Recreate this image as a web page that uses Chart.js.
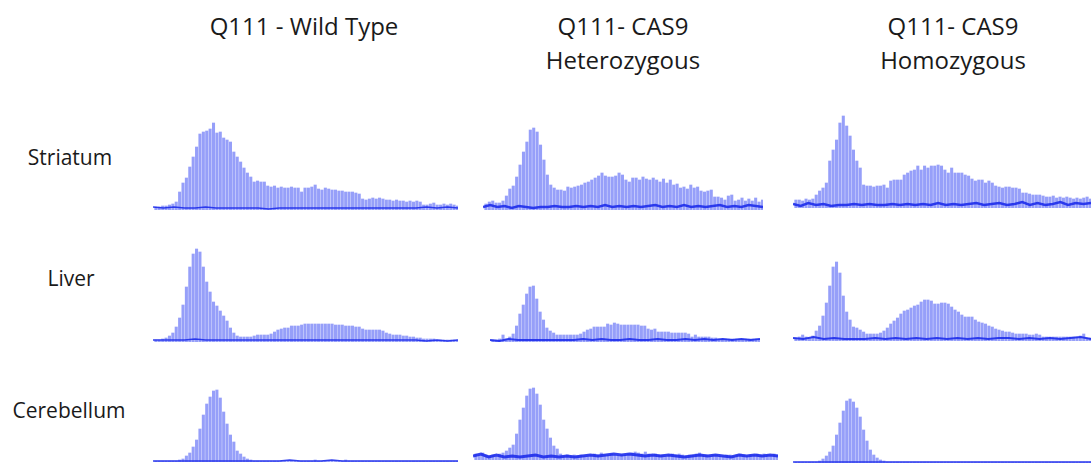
<!DOCTYPE html>
<html lang="en">
<head>
    <meta charset="UTF-8">
    <script src="https://cdn.jsdelivr.net/npm/chart.js"></script>
    <title>Q111 fragment traces</title>
    <style>
        body { margin: 0; background: #fff; }
        #wrap { position: relative; width: 1091px; height: 464px; overflow: hidden; font-family: "Open Sans", Lato, sans-serif; color: #1a1a1a; }
        .col-title { position: absolute; top: 9px; width: 300px; margin-left: -150px; text-align: center; font-size: 24px; line-height: 34px; }
        .row-label { position: absolute; width: 150px; margin-left: -75px; text-align: center; font-size: 21px; line-height: 24px; margin-top: -12px; }
        .panel { position: absolute; }
    </style>
</head>
<body>
<div id="wrap"></div>

<script>
// column / row text
const columnTitles = [["Q111 - Wild Type"], ["Q111- CAS9", "Heterozygous"], ["Q111- CAS9", "Homozygous"]];
const rowLabels = ["Striatum", "Liver", "Cerebellum"];

// peak heights (one value per repeat peak)
const striatumWT = [
    3,3,4,4,5,6,8,18,27,32, 43,53,63,76,78,79,81,87,77,78, 72,70,68,58,53,48,42,37,33,28,
    29,28,28,24,23,24,22,23,22,22, 23,22,22,18,22,22,23,25,21,20, 22,21,20,20,19,19,18,18,18,17,
    16,11,10,11,12,11,12,11,10,10, 9,10,9,9,8,9,8,9,8,5, 5,6,7,5,5,6,5,6,5,4];
const striatumHet = [
    6,8,9,7,7,9,14,21,24,33, 45,58,68,80,82,78,65,50,35,25, 22,20,20,19,23,22,23,24,25,27,
    28,30,32,34,37,34,33,33,34,37, 35,30,28,32,32,30,33,31,30,32, 30,28,31,27,30,25,26,22,23,21,
    25,22,23,19,18,19,20,13,13,12, 10,14,15,9,10,12,9,11,9,12, 8,10];
const striatumHom = [
    8,8,7,9,8,9,13,17,20,25, 47,58,68,85,92,82,72,58,47,40, 23,22,22,21,22,22,23,20,27,28,
    28,28,33,35,37,38,42,38,42,40, 42,42,43,42,38,35,40,35,35,35, 33,32,29,27,28,28,25,27,25,22,
    21,20,21,21,20,20,19,15,15,14, 13,13,13,12,11,11,12,10,11,10, 11,10,9,10,9,10,11,9];
const liverWT = [
    2,2,3,4,6,9,15,24,37,55, 75,88,93,90,75,60,50,40,36,31, 26,21,14,9,6,5,5,5,5,6,
    7,7,7,7,8,10,12,13,14,14, 16,16,16,17,18,18,18,18,18,18, 18,18,18,17,17,17,16,16,16,15,
    15,13,12,12,12,12,12,11,9,8, 7,7,7,6,6,5,5,4,4,3, 3,3,3,2,2,2,2,2,2,2];
const liverHet = [
    2,2,3,7,3,5,8,16,28,37, 48,55,56,43,30,22,14,11,9,7, 7,7,7,7,7,7,8,10,12,13,
    15,15,15,15,18,17,19,18,17,17, 17,17,17,17,16,16,13,12,13,10, 10,10,10,9,9,9,9,9,8,5,
    7,5,5,5,5,4,4,3,3,3, 3,3,3,3,3,3,3,3,3,3];
const liverHom = [
    3,4,6,4,3,5,10,15,25,38, 55,74,79,68,45,29,21,14,13,11, 9,7,7,7,7,8,10,13,17,20,
    23,27,30,31,33,35,36,39,41,41, 40,37,37,38,38,37,34,31,29,26, 24,24,24,21,19,18,17,15,14,12,
    11,10,9,9,8,7,7,7,7,6, 6,7,6,4,4,4,4,4,4,4, 4,4,4,4,5,7,3,3];
const cerebellumWT = [
    1,1,1,1,1,1,1,2,3,6, 9,15,22,33,47,58,65,71,72,64, 50,38,27,20,11,8,5,3,2,1,
    1,1,1,1,1,1,1,1,1,1, 1,1,1,1,1,1,1,2,1,1, 1,1,1,1,1,1,2,1,1,1,
    1,1,1,1,1,1,1,1,1,1, 1,1,1,1,1,1,1,1,1,1, 1,1,1,1,1,1,1,1,1,1];
const cerebellumHet = [
    6,5,7,5,4,5,4,6,7,9, 12,15,26,40,52,64,71,72,66,55, 40,31,22,14,11,6,4,5,4,5,
    4,5,4,4,5,6,5,7,5,5, 6,5,4,5,5,6,7,8,7,6, 8,6,5,6,5,5,4,5,6,5,
    6,5,4,5,5,6,7,5,5,4, 5,5,4,4,5,5,4,5,6,5, 4,5,5,6,5,6,5,5,6,5];
const cerebellumHom = [
    1,1,1,1,1,1,1,2,4,7, 11,17,28,40,52,62,64,61,55,46, 33,22,13,8,5,3,2,1,1,1,
    1,1,1,1,1,1,1,1,1,1, 1,1,1,1,1,1,1,1,1,1, 1,1,1,1,1,1,1,1,1,1,
    1,1,1,1,1,1,1,1,1,1, 1,1,1,1,1,1,1,1,1,1, 1,1,1,1,1,1,1,1];

// baseline noise under the peaks
const striatumWTBase = [3,2,3,2,2,3,2,2,2,2,2,1,2,2,2,2,2,2,2,2,2,2,2,2,2,2,3,2,3,2];
const striatumHetBase = [3,5,3,4,2,4,3,2,3,3,4,3,3,4,3,4,3,5,3,4,3,4,3,4,5,3,4,3,5,3,4,3,4,5,3,4,3,5,4,3];
const striatumHomBase = [4,2,5,3,4,2,3,3,4,3,4,3,3,4,3,4,3,4,3,5,3,4,3,4,5,3,4,5,3,4,6,3,5,3,4,6,3,5,4,5];
const liverWTBase = [2,2,2,2,3,2,2,2,2,2,2,2,2,2,2,2,2,2,2,2,2,2,2,2,2,2,1,2,1,2];
const liverHetBase = [2,1,3,2,2,2,2,2,2,2,3,2,3,2,2,3,2,2,3,2,2,3,2,3,2,3,2,3,2,3];
const liverHomBase = [3,2,4,2,3,2,2,2,3,2,3,2,3,2,3,2,3,2,3,2,3,3,2,3,2,3,2,3,4,2];
const cerebellumWTBase = [1,1,1,1,1,1,1,1,1,1,1,1,1,2,1,1,1,2,1,1,1,1,1,1,1,1,1,1,1,1];
const cerebellumHetBase = [4,6,3,5,3,4,3,4,5,3,4,3,4,3,4,5,4,5,6,5,6,5,4,5,4,5,4,3,4,5,4,5,4,3,5,4,5,4,5,4];
const cerebellumHomBase = [1,1,1,1,1,1,1,1,1,1,1,1,1,1,1,1,1,1,1,1,1,1,1,1,1,1,1,1,1,1];

// where each panel sits on the page
const panels = [
    { peaks: striatumWT,    base: striatumWTBase,    left: 153, right: 458,  baseline: 210, lineW: 1.5 },
    { peaks: striatumHet,   base: striatumHetBase,   left: 483, right: 763,  baseline: 210, lineW: 2.5 },
    { peaks: striatumHom,   base: striatumHomBase,   left: 793, right: 1091, baseline: 208, lineW: 2.5 },
    { peaks: liverWT,       base: liverWTBase,       left: 153, right: 458,  baseline: 342, lineW: 1.5 },
    { peaks: liverHet,      base: liverHetBase,      left: 490, right: 760,  baseline: 342, lineW: 2 },
    { peaks: liverHom,      base: liverHomBase,      left: 793, right: 1091, baseline: 341, lineW: 2 },
    { peaks: cerebellumWT,  base: cerebellumWTBase,  left: 153, right: 458,  baseline: 462, lineW: 1.5 },
    { peaks: cerebellumHet, base: cerebellumHetBase, left: 473, right: 778,  baseline: 460, lineW: 3 },
    { peaks: cerebellumHom, base: cerebellumHomBase, left: 793, right: 1091, baseline: 463, lineW: 1.5 }
];
const titleX = [304, 623, 953];
const labelPos = [[70, 157], [71, 278], [69, 410]];
const panelHeight = 100;

const wrap = document.getElementById("wrap");

columnTitles.forEach((lines, i) => {
    const d = document.createElement("div");
    d.className = "col-title";
    d.style.left = titleX[i] + "px";
    d.innerHTML = lines.join("<br>");
    wrap.appendChild(d);
});

rowLabels.forEach((txt, i) => {
    const d = document.createElement("div");
    d.className = "row-label";
    d.style.left = labelPos[i][0] + "px";
    d.style.top = labelPos[i][1] + "px";
    d.textContent = txt;
    wrap.appendChild(d);
});

panels.forEach(p => {
    const box = document.createElement("div");
    box.className = "panel";
    box.style.left = p.left + "px";
    box.style.top = (p.baseline - panelHeight) + "px";
    box.style.width = (p.right - p.left) + "px";
    box.style.height = panelHeight + "px";
    const cv = document.createElement("canvas");
    box.appendChild(cv);
    wrap.appendChild(box);

    new Chart(cv.getContext("2d"), {
        type: "bar",
        data: {
            labels: p.peaks.map((_, i) => i),
            datasets: [
                {
                    type: "line",
                    data: p.base,
                    xAxisID: "xb",
                    borderColor: "rgba(30, 45, 235, 0.9)",
                    borderWidth: p.lineW,
                    pointRadius: 0,
                    tension: 0
                },
                {
                    data: p.peaks,
                    backgroundColor: "rgba(85, 100, 245, 0.62)",
                    barThickness: 2.4,
                    borderWidth: 0
                }
            ]
        },
        options: {
            responsive: true,
            maintainAspectRatio: false,
            animation: false,
            layout: { padding: 0 },
            plugins: { legend: { display: false }, tooltip: { enabled: false } },
            scales: {
                x: { display: false },
                xb: { type: "category", labels: p.base.map((_, i) => i), offset: false, display: false },
                y: { min: 0, max: panelHeight, display: false }
            }
        }
    });
});
</script>
</body>
</html>
